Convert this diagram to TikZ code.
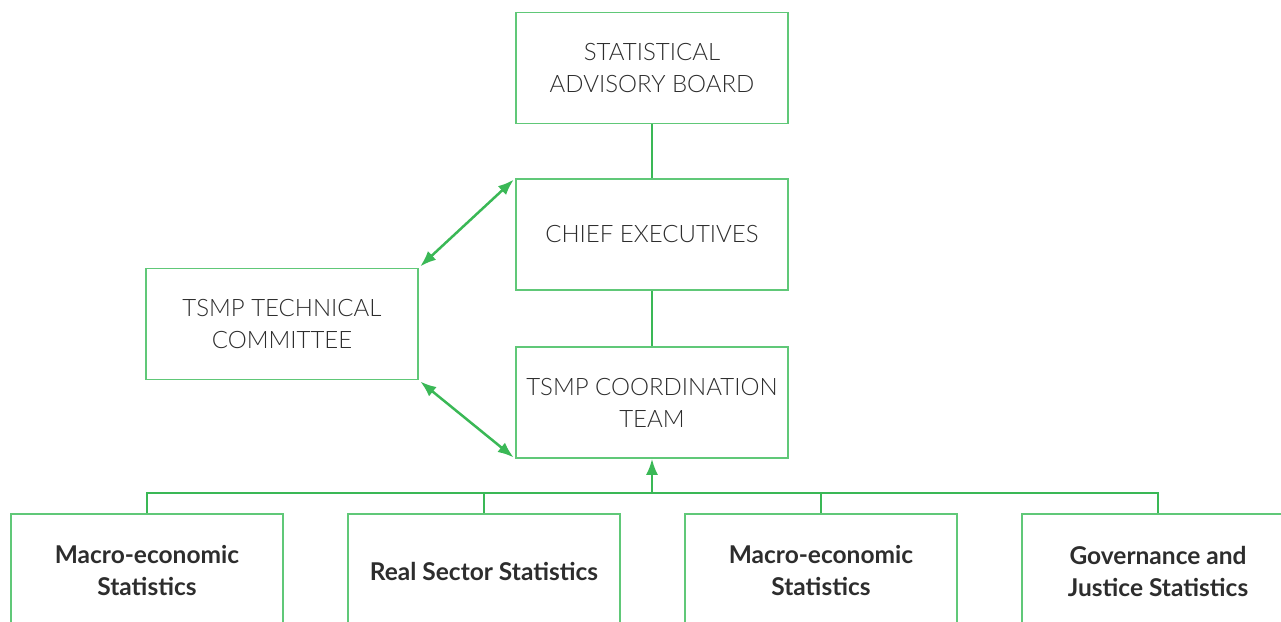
\documentclass[tikz,border=0pt]{standalone}
\usepackage{fontspec}
\setmainfont{Lato}
\newfontfamily\boxlight{Lato Light}
\newfontfamily\boxbold{Lato Bold}
\usetikzlibrary{arrows.meta}
\definecolor{boxgreen}{RGB}{96,200,120}
\definecolor{linegreen}{RGB}{58,184,86}
\definecolor{txtgray}{RGB}{45,45,45}
\tikzset{
  upbox/.style={draw=boxgreen, line width=1.5pt, minimum width=272pt, minimum height=111pt,
    align=center, text=txtgray, font=\boxlight\fontsize{24}{32}\selectfont, inner sep=0pt},
  lowbox/.style={draw=boxgreen, line width=1.5pt, minimum width=272pt, minimum height=114pt,
    align=center, text=txtgray, font=\boxbold\fontsize{24.5}{32}\selectfont, inner sep=0pt},
  conn/.style={draw=linegreen, line width=2.5pt},
  dbl/.style={conn, {Latex[length=16pt,width=12pt]}-{Latex[length=16pt,width=12pt]}, shorten <=2pt, shorten >=2pt},
  uparr/.style={conn, -{Latex[length=16pt,width=12pt]}}
}
\begin{document}
\begin{tikzpicture}[x=1pt,y=-1pt]
\useasboundingbox (0,0) rectangle (1281,621);
\clip (0,0) rectangle (1281,621);
\node[upbox] (sab) at (652,68) {STATISTICAL\\ADVISORY BOARD};
\node[upbox] (ce) at (652,234.5) {CHIEF EXECUTIVES};
\node[upbox] (ct) at (652,402.5) {TSMP COORDINATION\\TEAM};
\node[upbox] (tc) at (282,324) {TSMP TECHNICAL\\COMMITTEE};
\node[lowbox] (b1) at (147,571) {Macro-economic\\Statistics};
\node[lowbox] (b2) at (484,571) {Real Sector Statistics};
\node[lowbox] (b3) at (821,571) {Macro-economic\\Statistics};
\node[lowbox] (b4) at (1158,571) {Governance and\\Justice Statistics};
\coordinate (bus) at (652,493);
\draw[conn] (sab.south) -- (ce.north);
\draw[conn] (ce.south) -- (ct.north);
\draw[dbl] (tc.north east) -- (ce.north west);
\draw[dbl] (tc.south east) -- (ct.south west);
\draw[conn] (b1.north) -- (b1.north |- bus) -- (b4.north |- bus) -- (b4.north);
\draw[conn] (b2.north) -- (b2.north |- bus);
\draw[conn] (b3.north) -- (b3.north |- bus);
\draw[uparr] (bus) -- (ct.south);
\end{tikzpicture}
\end{document}
